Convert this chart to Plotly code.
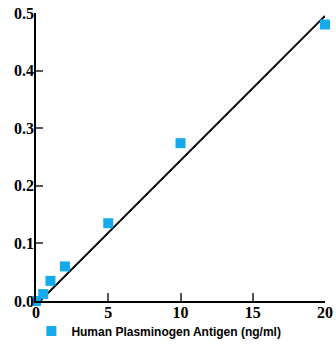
import plotly.graph_objects as go

conc = [0, 0.5, 1, 2, 5, 10, 20]
od = [0.0, 0.012, 0.035, 0.06, 0.135, 0.274, 0.48]
fit_x = [0.3, 20]
fit_y = [0.0005, 0.495]
x_ticks = [0, 5, 10, 15, 20]
y_ticks = [0.0, 0.1, 0.2, 0.3, 0.4, 0.5]
series_name = "Human Plasminogen Antigen (ng/ml)"

fig = go.Figure()
fig.add_trace(go.Scatter(x=fit_x, y=fit_y, mode="lines",
                         line=dict(color="black", width=2), showlegend=False,
                         hoverinfo="skip"))
fig.add_trace(go.Scatter(x=conc, y=od, mode="markers", name=series_name,
                         marker=dict(symbol="square", size=10, color="#14aaeb"),
                         cliponaxis=False))

axis_font = dict(family="Liberation Serif", size=16, color="black", weight="bold")
fig.update_layout(
    width=336, height=344,
    margin=dict(l=36, r=11, t=13, b=43, autoexpand=False),
    plot_bgcolor="white", paper_bgcolor="white",
    showlegend=True,
    legend=dict(orientation="h", x=-0.016, y=-0.104, xanchor="left", yanchor="middle",
                font=dict(family="Liberation Sans", size=12,
                          color="black", weight="bold"),
                itemwidth=30, bgcolor="rgba(0,0,0,0)"),
    xaxis=dict(range=[0, 20], tickvals=x_ticks, ticktext=[str(v) for v in x_ticks],
               showgrid=False, zeroline=False, showline=True, linecolor="black", linewidth=1.5,
               ticks="inside", ticklen=8, tickcolor="#555", tickwidth=1.5,
               tickfont=axis_font, automargin=False, ticklabeloverflow="allow",
               ticklabelstandoff=-4),
    yaxis=dict(range=[0, 0.5], tickvals=y_ticks, ticktext=[f"{v:.1f}" for v in y_ticks],
               showgrid=False, zeroline=False, showline=True, linecolor="black", linewidth=1.5,
               ticks="inside", ticklen=7, tickcolor="#555", tickwidth=1.5,
               tickfont=axis_font, automargin=False, ticklabeloverflow="allow",
               ticklabelstandoff=-3),
)
fig.write_html("out.html", config={"displayModeBar": False},
               post_script="document.body.style.margin='0';")
